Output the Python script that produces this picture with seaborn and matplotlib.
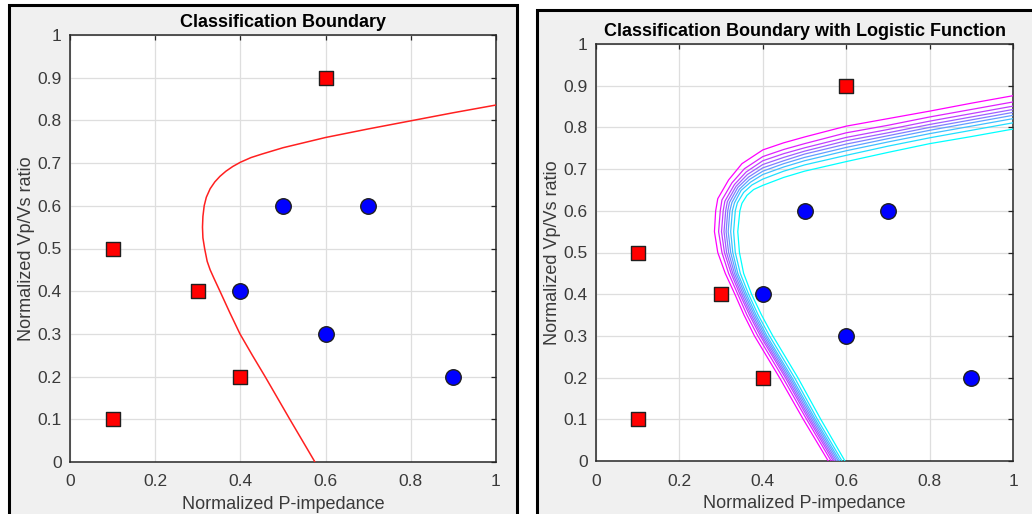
import matplotlib
matplotlib.use("Agg")
import matplotlib.pyplot as plt
from matplotlib.patches import Rectangle
import seaborn as sns
import pandas as pd

# ---------------- data ----------------
class_a_x = [0.1, 0.1, 0.3, 0.4, 0.6]
class_a_y = [0.1, 0.5, 0.4, 0.2, 0.9]
class_b_x = [0.4, 0.5, 0.6, 0.7, 0.9]
class_b_y = [0.4, 0.6, 0.3, 0.6, 0.2]

# decision boundary (left panel)
boundary_x = [0.575, 0.516, 0.458, 0.428, 0.399, 0.375, 0.352, 0.338, 0.329, 0.322, 0.316,
              0.312, 0.311, 0.312, 0.315, 0.320, 0.329, 0.340, 0.352, 0.366, 0.382, 0.400,
              0.425, 0.450, 0.500, 0.600, 0.700, 0.800, 0.900, 1.000]
boundary_y = [0.000, 0.100, 0.200, 0.250, 0.300, 0.350, 0.400, 0.430, 0.450, 0.470, 0.500,
              0.525, 0.550, 0.575, 0.600, 0.620, 0.640, 0.656, 0.669, 0.681, 0.692, 0.702,
              0.713, 0.721, 0.736, 0.760, 0.780, 0.799, 0.818, 0.836]

# logistic probability contours (right panel)
prob_levels = [0.1, 0.2, 0.3, 0.4, 0.5, 0.6, 0.7, 0.8, 0.9]

lower_y = [0.0, 0.1, 0.2, 0.3, 0.35, 0.4, 0.45, 0.5, 0.55, 0.6]
lower_x = {
    0.1: [0.557, 0.497, 0.440, 0.380, 0.355, 0.333, 0.310, 0.292, 0.284, 0.287],
    0.2: [0.564, 0.505, 0.448, 0.388, 0.362, 0.340, 0.318, 0.302, 0.294, 0.298],
    0.3: [0.569, 0.510, 0.454, 0.394, 0.368, 0.345, 0.324, 0.308, 0.301, 0.305],
    0.4: [0.573, 0.514, 0.458, 0.398, 0.372, 0.349, 0.328, 0.313, 0.307, 0.311],
    0.5: [0.577, 0.518, 0.462, 0.402, 0.376, 0.353, 0.332, 0.318, 0.312, 0.316],
    0.6: [0.581, 0.522, 0.466, 0.406, 0.380, 0.357, 0.336, 0.323, 0.317, 0.321],
    0.7: [0.585, 0.526, 0.470, 0.410, 0.384, 0.361, 0.340, 0.328, 0.323, 0.327],
    0.8: [0.590, 0.531, 0.476, 0.416, 0.389, 0.366, 0.346, 0.334, 0.330, 0.334],
    0.9: [0.597, 0.539, 0.484, 0.424, 0.397, 0.373, 0.354, 0.344, 0.340, 0.345],
}
bend_x = {
    0.1: [0.292, 0.318, 0.350], 0.2: [0.302, 0.326, 0.356], 0.3: [0.309, 0.332, 0.360],
    0.4: [0.315, 0.336, 0.363], 0.5: [0.320, 0.340, 0.366], 0.6: [0.326, 0.344, 0.368],
    0.7: [0.332, 0.348, 0.371], 0.8: [0.339, 0.354, 0.374], 0.9: [0.350, 0.362, 0.378],
}
bend_y = {
    0.1: [0.629, 0.674, 0.713], 0.2: [0.626, 0.667, 0.701], 0.3: [0.623, 0.663, 0.693],
    0.4: [0.622, 0.659, 0.687], 0.5: [0.620, 0.656, 0.681], 0.6: [0.620, 0.652, 0.675],
    0.7: [0.619, 0.649, 0.669], 0.8: [0.619, 0.644, 0.662], 0.9: [0.618, 0.637, 0.651],
}
upper_x = [0.4, 0.45, 0.5, 0.6, 0.7, 0.8, 0.9, 1.0]
upper_y = {
    0.1: [0.746, 0.763, 0.777, 0.803, 0.821, 0.839, 0.858, 0.876],
    0.2: [0.730, 0.747, 0.761, 0.787, 0.805, 0.825, 0.843, 0.861],
    0.3: [0.720, 0.737, 0.751, 0.776, 0.795, 0.815, 0.833, 0.851],
    0.4: [0.711, 0.728, 0.743, 0.768, 0.787, 0.807, 0.825, 0.843],
    0.5: [0.703, 0.720, 0.736, 0.760, 0.780, 0.800, 0.818, 0.836],
    0.6: [0.695, 0.713, 0.728, 0.752, 0.773, 0.793, 0.811, 0.829],
    0.7: [0.687, 0.705, 0.720, 0.744, 0.765, 0.785, 0.803, 0.821],
    0.8: [0.676, 0.695, 0.710, 0.733, 0.755, 0.775, 0.793, 0.811],
    0.9: [0.661, 0.680, 0.695, 0.718, 0.740, 0.761, 0.778, 0.796],
}

xticks = [0, 0.2, 0.4, 0.6, 0.8, 1]
yticks = [0, 0.1, 0.2, 0.3, 0.4, 0.5, 0.6, 0.7, 0.8, 0.9, 1]
tick_labels_x = ["0", "0.2", "0.4", "0.6", "0.8", "1"]
tick_labels_y = ["0", "0.1", "0.2", "0.3", "0.4", "0.5", "0.6", "0.7", "0.8", "0.9", "1"]
titles = ["Classification Boundary", "Classification Boundary with Logistic Function"]
xlabel = "Normalized P-impedance"
ylabel = "Normalized Vp/Vs ratio"

# ---------------- style ----------------
sns.set_theme(style="white")
plt.rcParams["font.family"] = ["Liberation Sans", "DejaVu Sans"]

W, H = 1032, 514
fig = plt.figure(figsize=(W / 100, H / 100), dpi=100)
fig.patch.set_facecolor("white")

# panel backgrounds (two figure windows)
for (x0, x1, ytop) in [(9, 517, 5), (537, 1040, 10)]:
    fig.patches.append(Rectangle((x0 / W, -0.02), (x1 - x0) / W, (H - ytop) / H + 0.02,
                                 transform=fig.transFigure, facecolor="#f0f0f0",
                                 edgecolor="black", linewidth=2.2, zorder=-10))

ax1 = fig.add_axes([70 / W, (H - 462) / H, 426 / W, 427 / H])
ax2 = fig.add_axes([596 / W, (H - 461) / H, 417 / W, 417 / H])

df_a = pd.DataFrame({"x": class_a_x, "y": class_a_y})
df_b = pd.DataFrame({"x": class_b_x, "y": class_b_y})


def style_axes(ax, title):
    ax.set_facecolor("white")
    ax.set_xlim(0, 1)
    ax.set_ylim(0, 1)
    ax.set_xticks(xticks)
    ax.set_xticklabels(tick_labels_x)
    ax.set_yticks(yticks)
    ax.set_yticklabels(tick_labels_y)
    ax.grid(True, color="#dedede", linewidth=0.9, zorder=0)
    ax.set_axisbelow(True)
    ax.tick_params(direction="in", length=3.5, width=0.9, color="#262626",
                   top=True, right=True, labelsize=12.5, labelcolor="#3a3a3a")
    ax.tick_params(axis="x", pad=9)
    ax.tick_params(axis="y", pad=6)
    for s in ax.spines.values():
        s.set_color("#262626")
        s.set_linewidth(1.1)
        s.set_visible(True)
    ax.set_title(title, fontsize=13, fontweight="bold", color="black", pad=6)
    ax.set_xlabel(xlabel, fontsize=13, color="#3a3a3a", labelpad=4.5)
    ax.set_ylabel(ylabel, fontsize=13, color="#3a3a3a", labelpad=2)


def draw_points(ax):
    sns.scatterplot(data=df_a, x="x", y="y", marker="s", s=100, color="#ff0000",
                    edgecolor="#202020", linewidth=1.0, ax=ax, zorder=5, legend=False)
    sns.scatterplot(data=df_b, x="x", y="y", marker="o", s=125, color="#0000ff",
                    edgecolor="#202020", linewidth=1.0, ax=ax, zorder=5, legend=False)


# left panel
sns.lineplot(x=boundary_x, y=boundary_y, sort=False, estimator=None, color="#ff2020",
             linewidth=1.1, ax=ax1, zorder=3)
draw_points(ax1)
style_axes(ax1, titles[0])

# right panel (MATLAB "cool" colormap: magenta for low p, cyan for high p)
cmap = plt.get_cmap("cool")
for i, p in enumerate(prob_levels):
    col = cmap(1 - i / (len(prob_levels) - 1))
    xs = lower_x[p] + bend_x[p] + upper_x
    ys = lower_y + bend_y[p] + upper_y[p]
    sns.lineplot(x=xs, y=ys, sort=False, estimator=None, color=col,
                 linewidth=0.9, ax=ax2, zorder=3)
draw_points(ax2)
style_axes(ax2, titles[1])

fig.savefig("out.png", dpi=100)
